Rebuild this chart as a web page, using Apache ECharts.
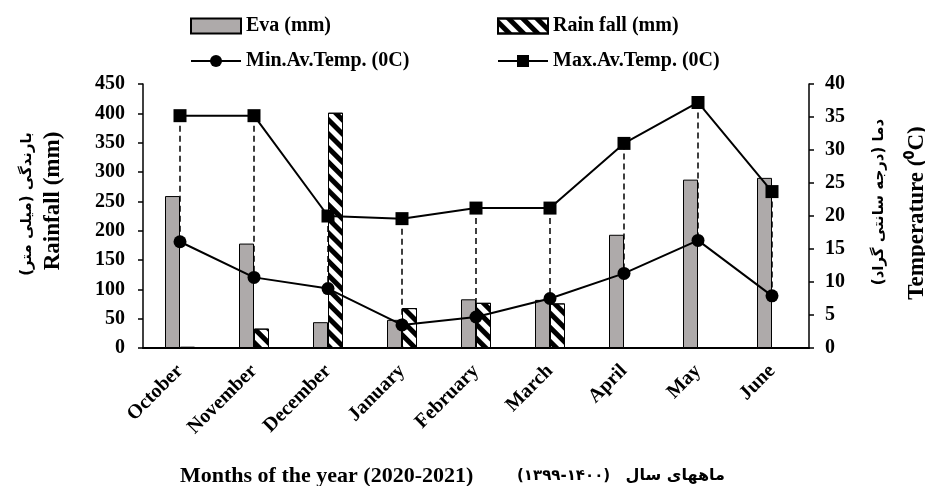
<!DOCTYPE html>
<html>
<head>
<meta charset="utf-8">
<script src="https://cdn.jsdelivr.net/npm/echarts@6/dist/echarts.min.js"></script>
<style>
html,body{margin:0;padding:0;background:#fff;}
#chart{width:925px;height:486px;}
</style>
</head>
<body>
<div id="chart"></div>
<script>
var months = ['October','November','December','January','February','March','April','May','June'];
var evaMm = [259, 178, 44, 48, 83, 82, 193, 287, 290];
var rainMm = [2, 33, 401, 68, 77, 76, 0, 0, 0];
var minTemp = [16.1, 10.7, 9.0, 3.5, 4.7, 7.5, 11.3, 16.3, 7.9];
var maxTemp = [35.2, 35.2, 20.0, 19.6, 21.2, 21.2, 31.0, 37.2, 23.7];
var rainTicks = [0, 450, 50];
var tempTicks = [0, 40, 5];

var SERIF = '"Liberation Serif","Times New Roman",serif';
var FA = '"DejaVu Sans",sans-serif';
var chart = echarts.init(document.getElementById('chart'));

var hiLo = months.map(function (m, i) { return [i, maxTemp[i], minTemp[i]]; });

var legendBase = {
  itemWidth: 50, itemHeight: 15, itemGap: 5, padding: 0,
  textStyle: {fontFamily: SERIF, fontWeight: 'bold', fontSize: 20, color: '#000'},
  selectedMode: false
};
function lg(name, left, top, icon) {
  var o = Object.assign({}, legendBase, {data: [name], left: left, top: top});
  if (icon) o.icon = icon;
  return o;
}

chart.setOption({
  backgroundColor: '#fff',
  animation: false,
  legend: [
    lg('Eva (mm)', 190, 16, 'rect'),
    lg('Rain fall (mm)', 497, 16, 'rect'),
    lg('Min.Av.Temp. (0C)', 190, 51),
    lg('Max.Av.Temp. (0C)', 497, 51)
  ],
  grid: {left: 143, right: 116, top: 84, bottom: 138},
  xAxis: {
    type: 'category', data: months,
    axisLine: {lineStyle: {color: '#000', width: 2}},
    axisTick: {show: false},
    axisLabel: {rotate: 45, margin: 20, interval: 0, color: '#000',
      fontFamily: SERIF, fontWeight: 'bold', fontSize: 20}
  },
  yAxis: [{
    type: 'value', min: rainTicks[0], max: rainTicks[1], interval: rainTicks[2],
    axisLine: {show: true, lineStyle: {color: '#000', width: 1.5}},
    axisTick: {show: true, length: 5, lineStyle: {color: '#000', width: 1.5}},
    splitLine: {show: false},
    axisLabel: {margin: 18, color: '#000', fontFamily: SERIF, fontWeight: 'bold', fontSize: 20}
  }, {
    type: 'value', min: tempTicks[0], max: tempTicks[1], interval: tempTicks[2],
    position: 'right',
    axisLine: {show: true, lineStyle: {color: '#000', width: 1.5}},
    axisTick: {show: true, length: 5, lineStyle: {color: '#000', width: 1.5}},
    splitLine: {show: false},
    axisLabel: {margin: 16, color: '#000', fontFamily: SERIF, fontWeight: 'bold', fontSize: 20}
  }],
  series: [{
    type: 'custom', name: 'hilo', yAxisIndex: 1, z: 1, silent: true,
    data: hiLo,
    encode: {x: 0, y: [1, 2]},
    renderItem: function (params, api) {
      var a = api.coord([api.value(0), api.value(1)]);
      var b = api.coord([api.value(0), api.value(2)]);
      return {type: 'line', shape: {x1: a[0], y1: a[1], x2: b[0], y2: b[1]},
        style: {stroke: '#000', lineWidth: 1.5, lineDash: [6, 4]}};
    }
  }, {
    type: 'bar', name: 'Eva (mm)', data: evaMm, barWidth: 15, barGap: '0%', z: 2,
    itemStyle: {color: '#aeaaaa', borderColor: '#000', borderWidth: 1}
  }, {
    type: 'bar', name: 'Rain fall (mm)', data: rainMm, barWidth: 15, barGap: '0%', z: 2,
    itemStyle: {color: '#fff', borderColor: '#000', borderWidth: 1,
      decal: {symbol: 'rect', symbolSize: 1, dashArrayX: [1, 0], dashArrayY: [5, 5],
        rotation: Math.PI / 4, color: '#000'}}
  }, {
    type: 'line', name: 'Min.Av.Temp. (0C)', data: minTemp, yAxisIndex: 1, z: 3,
    symbol: 'circle', symbolSize: 13, color: '#000',
    lineStyle: {color: '#000', width: 2}, itemStyle: {color: '#000'}
  }, {
    type: 'line', name: 'Max.Av.Temp. (0C)', data: maxTemp, yAxisIndex: 1, z: 3,
    symbol: 'rect', symbolSize: 13, color: '#000',
    lineStyle: {color: '#000', width: 2}, itemStyle: {color: '#000'}
  }],
  graphic: [
    {type: 'text', x: 53, y: 201, rotation: Math.PI / 2,
      style: {text: 'Rainfall (mm)', font: 'bold 23px ' + SERIF, fill: '#000', textAlign: 'center', textVerticalAlign: 'middle'}},
    {type: 'text', x: 27, y: 204, rotation: Math.PI / 2,
      style: {text: '\u200Fبارندگی (میلی متر)\u200F', font: 'bold 15px ' + FA, fill: '#000', textAlign: 'center', textVerticalAlign: 'middle'}},
    {type: 'text', x: 879, y: 202, rotation: Math.PI / 2,
      style: {text: '\u200Fدما (درجه سانتی گراد)\u200F', font: 'bold 15px ' + FA, fill: '#000', textAlign: 'center', textVerticalAlign: 'middle'}},
    {type: 'text', x: 917, y: 213, rotation: Math.PI / 2,
      style: {text: 'Temperature (\u2070C)', font: 'bold 23px ' + SERIF, fill: '#000', textAlign: 'center', textVerticalAlign: 'middle'}},
    {type: 'text', x: 180, y: 476,
      style: {text: 'Months of the year (2020-2021)', font: 'bold 22px ' + SERIF, fill: '#000', textAlign: 'left', textVerticalAlign: 'middle'}},
    {type: 'text', x: 517, y: 476,
      style: {text: '\u200E(۱۳۹۹-۱۴۰۰)\u200E', font: 'bold 15px ' + FA, fill: '#000', textAlign: 'left', textVerticalAlign: 'middle'}},
    {type: 'text', x: 725, y: 476,
      style: {text: 'ماههای سال', font: 'bold 16px ' + FA, fill: '#000', textAlign: 'right', textVerticalAlign: 'middle'}}
  ]
});
</script>
</body>
</html>
